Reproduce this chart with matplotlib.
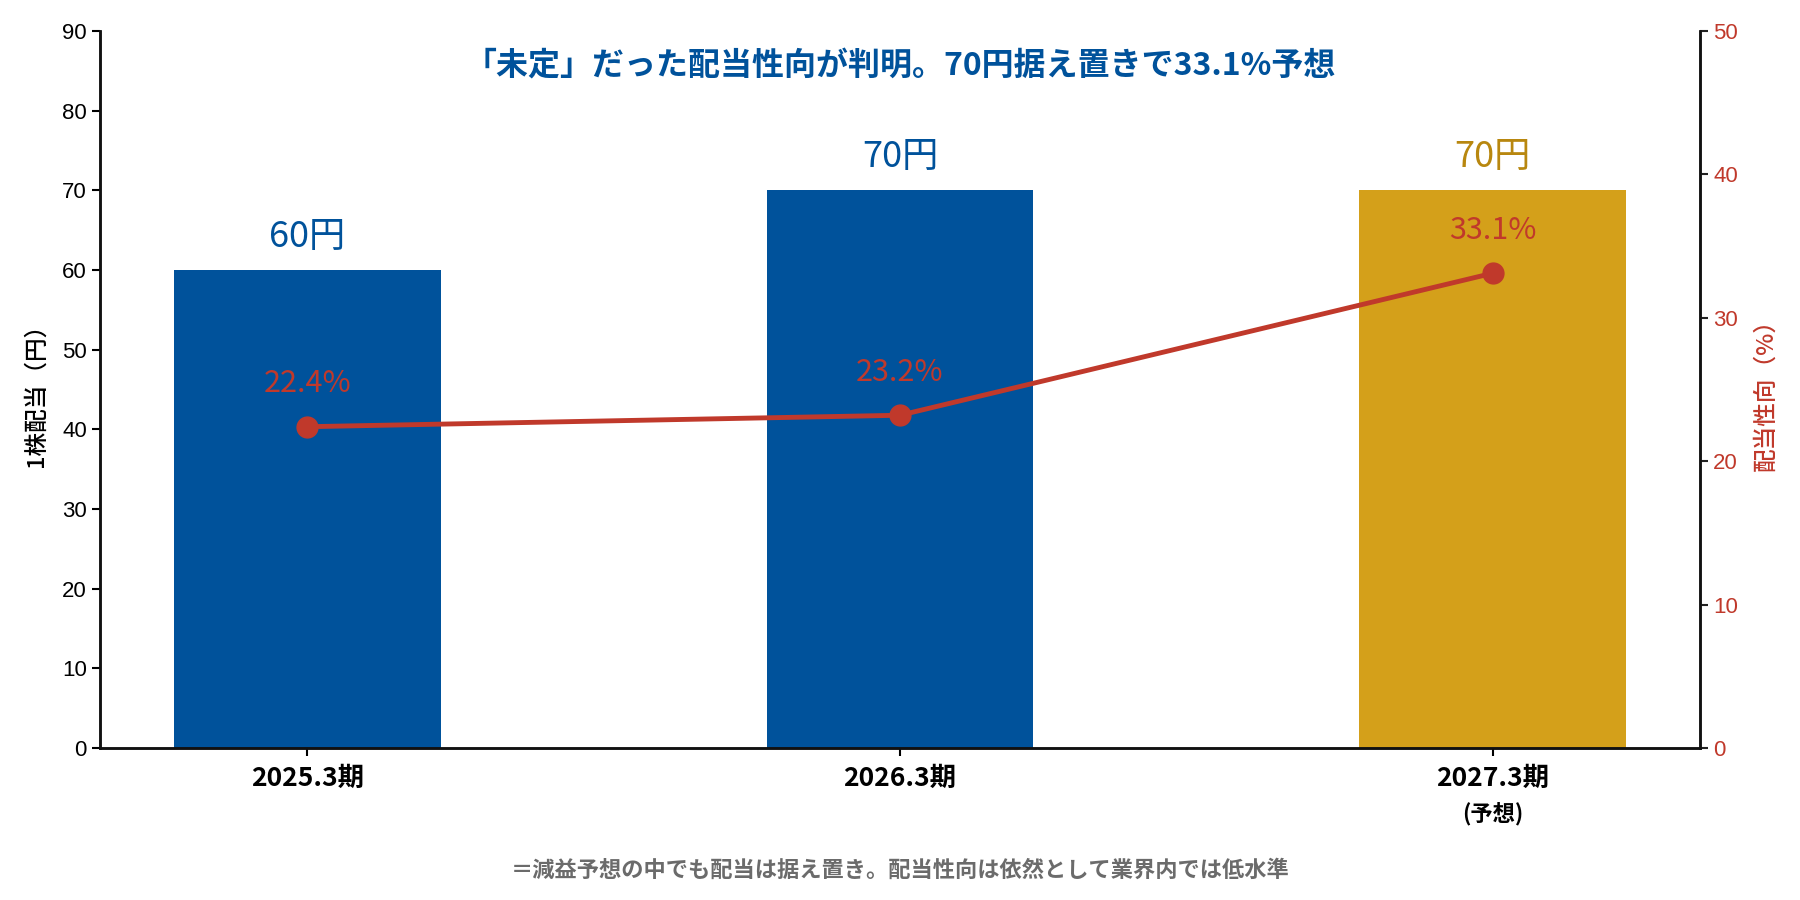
import matplotlib
matplotlib.use("Agg")
import matplotlib.pyplot as plt

plt.rcParams['font.family'] = ['Noto Sans CJK JP', 'DejaVu Sans']

# data
PERIODS = ["2025.3期", "2026.3期", "2027.3期"]
DIVIDEND = [60, 70, 70]
PAYOUT = [22.4, 23.2, 33.1]
FORECAST_NOTE = "(予想)"

TITLE = "「未定」だった配当性向が判明。70円据え置きで33.1%予想"
FOOTNOTE = "＝減益予想の中でも配当は据え置き。配当性向は依然として業界内では低水準"

BLUE = "#00529B"
GOLD = "#D4A01A"
GOLD_TEXT = "#B8870F"
RED = "#C0392B"

TICK_FONT = ['Liberation Sans', 'Noto Sans CJK JP']


def main():
    fig = plt.figure(figsize=(18, 9), dpi=100)
    ax = fig.add_axes([0.0556, 0.169, 0.8888, 0.7966])
    ax2 = ax.twinx()

    x = list(range(len(PERIODS)))
    bar_colors = [BLUE, BLUE, GOLD]
    label_colors = [BLUE, BLUE, GOLD_TEXT]
    ax.bar(x, DIVIDEND, width=0.45, color=bar_colors, zorder=2)

    for xi, v, c in zip(x, DIVIDEND, label_colors):
        ax.annotate(f"{v}円", (xi, v), xytext=(0, 16.5), textcoords="offset points",
                    ha="center", va="baseline", fontsize=26, color=c)

    ax.set_xlim(-0.35, 2.35)
    ax.set_ylim(0, 90)
    ax.set_yticks(range(0, 91, 10))
    ax.set_xticks(x)
    ax.set_xticklabels(PERIODS, fontsize=19, fontweight="bold")
    ax.tick_params(axis="y", labelsize=16, length=6, width=1.5)
    ax.tick_params(axis="x", length=6, width=1.5, pad=6)
    for t in ax.get_yticklabels():
        t.set_family(TICK_FONT)
    ax.set_ylabel("1株配当（円）", fontsize=17, fontweight="medium", labelpad=10)

    ax.text(x[-1], -0.075, FORECAST_NOTE, transform=ax.get_xaxis_transform(),
            ha="center", va="top", fontsize=16, fontweight="bold")

    ax2.plot(x, PAYOUT, color=RED, linewidth=3.5, marker="o", markersize=15, zorder=3)
    for xi, v in zip(x, PAYOUT):
        ax2.annotate(f"{v:.1f}%", (xi, v), xytext=(0, 25), textcoords="offset points",
                     ha="center", va="baseline", fontsize=22, color=RED)
    ax2.set_ylim(0, 50)
    ax2.set_yticks(range(0, 51, 10))
    ax2.tick_params(axis="y", labelsize=16, colors=RED, length=6, width=1.5)
    ax2.tick_params(axis="y", color="#222222")
    for t in ax2.get_yticklabels():
        t.set_family(TICK_FONT)
    ax2.set_ylabel("配当性向（%）", fontsize=17, fontweight="medium", color=RED, labelpad=12)

    for a in (ax, ax2):
        a.spines["top"].set_visible(False)
        for s in ("left", "right", "bottom"):
            a.spines[s].set_linewidth(1.8)
            a.spines[s].set_color("#111111")

    ax.text(0.5, 0.95, TITLE, transform=ax.transAxes, ha="center", va="center",
            fontsize=23, fontweight="bold", color=BLUE)
    fig.text(0.5, 0.033, FOOTNOTE, ha="center", va="center", fontsize=16,
             fontweight="bold", color="#6b6b6b")

    fig.savefig("out.png", dpi=100)


if __name__ == '__main__':
    main()
